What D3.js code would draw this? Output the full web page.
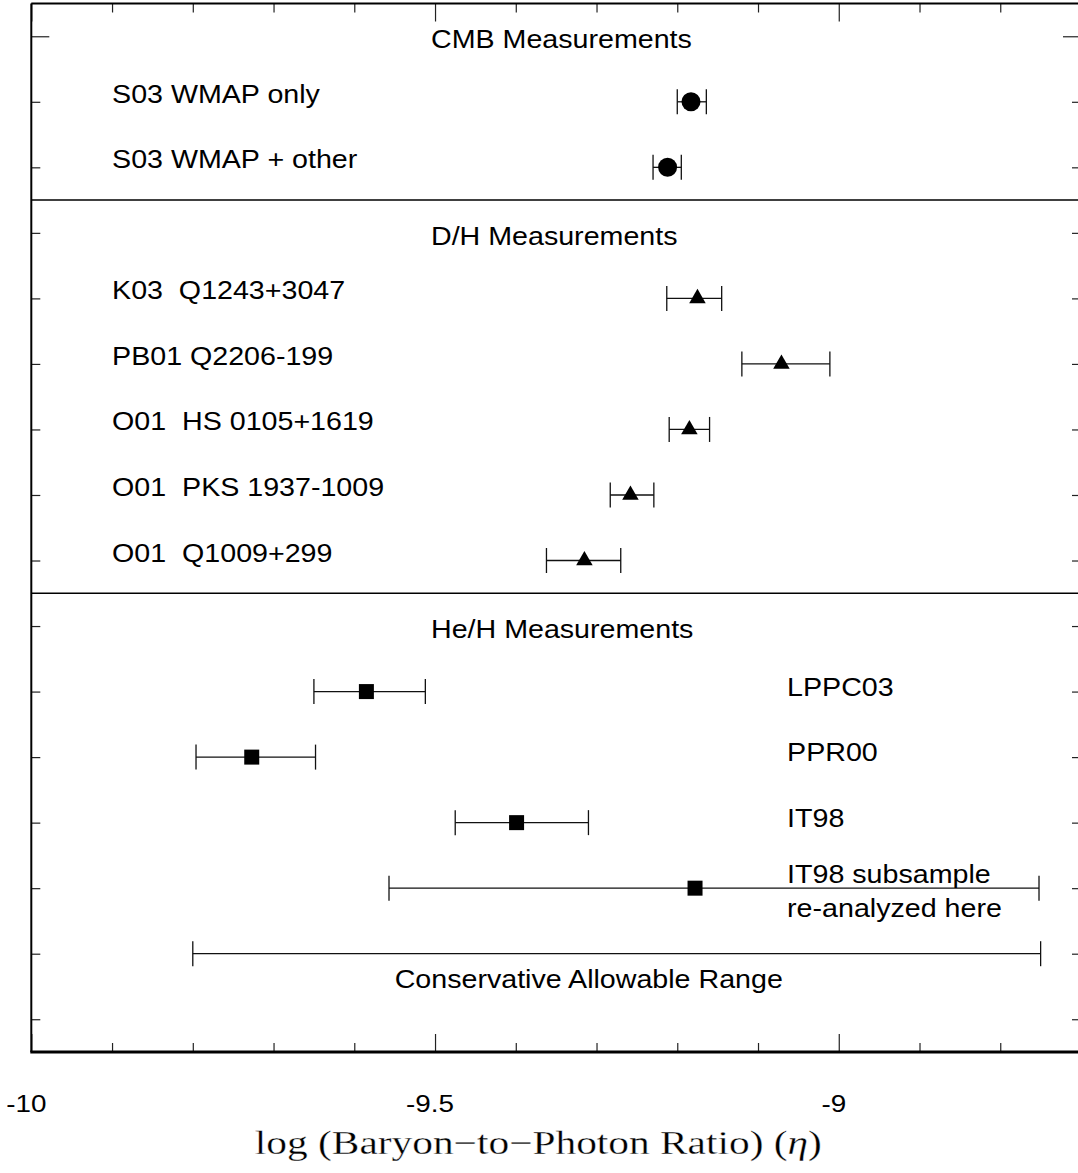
<!DOCTYPE html>
<html>
<head>
<meta charset="utf-8">
<script src="https://cdn.jsdelivr.net/npm/d3@7"></script>
<style>
  body { margin: 0; background: #fff; }
  text { font-family: "Liberation Sans", Arial, Helvetica, sans-serif; fill: #000; }
  .domain { display: none; }
</style>
</head>
<body>
<script>
'use strict';

// ---- data (log eta, rows counted from the top) ----
const sectionTitles = ['CMB Measurements', 'D/H Measurements', 'He/H Measurements'];
const sectionRows = [0, 3, 9];
const dividerRows = [2.5, 8.5];

const cmbLabels = ['S03 WMAP only', 'S03 WMAP + other'];
const cmbRows = [1, 2];
const cmbEta = [-9.183, -9.212];
const cmbLow = [-9.200, -9.230];
const cmbHigh = [-9.164, -9.195];

const dhLabels = ['K03  Q1243+3047', 'PB01 Q2206-199', 'O01  HS 0105+1619', 'O01  PKS 1937-1009', 'O01  Q1009+299'];
const dhRows = [4, 5, 6, 7, 8];
const dhEta = [-9.175, -9.071, -9.185, -9.258, -9.315];
const dhLow = [-9.213, -9.120, -9.210, -9.283, -9.362];
const dhHigh = [-9.145, -9.011, -9.160, -9.229, -9.270];

const heLabels = [['LPPC03'], ['PPR00'], ['IT98'], ['IT98 subsample', 're-analyzed here']];
const heRows = [10, 11, 12, 13];
const heEta = [-9.585, -9.727, -9.399, -9.178];
const heLow = [-9.650, -9.796, -9.475, -9.557];
const heHigh = [-9.512, -9.648, -9.310, -8.752];

const rangeLabel = 'Conservative Allowable Range';
const rangeRow = 14;
const rangeLow = -9.8;
const rangeHigh = -8.75;

const xDomain = [-10, -8.7];
const yDomain = [-0.5, 15.5];
const xMajor = [-10, -9.5, -9];
const xMajorLabels = ['-10', '-9.5', '-9'];
const xMinor = [-9.9, -9.8, -9.7, -9.6, -9.4, -9.3, -9.2, -9.1, -8.9, -8.8];
const yMajor = [0];
const yMinor = [1, 2, 3, 4, 5, 6, 7, 8, 9, 10, 11, 12, 13, 14, 15];

// label anchors in data units
const leftLabelX = -9.9;
const titleX = -9.505;
const heLabelX = -9.064;
const rangeLabelX = -9.55;
const axisTitleX = -9.372;

// ---- setup ----
const W = 1078, H = 1173;
const svg = d3.select('body').append('svg')
  .attr('width', W).attr('height', H)
  .attr('viewBox', `0 0 ${W} ${H}`)
  .attr('xmlns', 'http://www.w3.org/2000/svg');

svg.append('rect').attr('width', W).attr('height', H).attr('fill', '#fff');

const x = d3.scaleLinear().domain(xDomain).range([31.3, 1081]);
const y = d3.scaleLinear().domain(yDomain).range([3.5, 1052]);

const label = (node, px, py, str, size, sx, anchor) => {
  node.append('text')
    .attr('transform', `translate(${px}, ${py}) scale(${sx}, 1)`)
    .attr('font-size', size)
    .attr('text-anchor', anchor || 'start')
    .style('white-space', 'pre')
    .text(str);
};

// ---- axes / frame ----
const axes = svg.append('g');
const tickStyle = g => g.selectAll('.tick line').attr('stroke', '#222').attr('stroke-width', 1.2);

axes.append('g').attr('transform', `translate(0, ${y(yDomain[1])})`)
  .call(d3.axisBottom(x).tickValues(xMinor).tickSize(-9).tickFormat(''))
  .call(tickStyle);
axes.append('g').attr('transform', `translate(0, ${y(yDomain[1])})`)
  .call(d3.axisBottom(x).tickValues(xMajor).tickSize(-18).tickFormat(''))
  .call(tickStyle);
axes.append('g').attr('transform', `translate(0, ${y(yDomain[0])})`)
  .call(d3.axisTop(x).tickValues(xMinor).tickSize(-9).tickFormat(''))
  .call(tickStyle);
axes.append('g').attr('transform', `translate(0, ${y(yDomain[0])})`)
  .call(d3.axisTop(x).tickValues(xMajor).tickSize(-18).tickFormat(''))
  .call(tickStyle);
axes.append('g').attr('transform', `translate(${x(xDomain[0])}, 0)`)
  .call(d3.axisLeft(y).tickValues(yMinor).tickSize(-9).tickFormat(''))
  .call(tickStyle);
axes.append('g').attr('transform', `translate(${x(xDomain[0])}, 0)`)
  .call(d3.axisLeft(y).tickValues(yMajor).tickSize(-18).tickFormat(''))
  .call(tickStyle);
axes.append('g').attr('transform', `translate(${x(xDomain[1])}, 0)`)
  .call(d3.axisRight(y).tickValues(yMinor).tickSize(-9).tickFormat(''))
  .call(tickStyle);
axes.append('g').attr('transform', `translate(${x(xDomain[1])}, 0)`)
  .call(d3.axisRight(y).tickValues(yMajor).tickSize(-18).tickFormat(''))
  .call(tickStyle);

// frame
axes.append('line')
  .attr('x1', x(xDomain[0])).attr('x2', x(xDomain[0]))
  .attr('y1', y(yDomain[0])).attr('y2', y(yDomain[1]))
  .attr('stroke', '#000').attr('stroke-width', 2);
axes.append('line')
  .attr('x1', x(xDomain[0])).attr('x2', x(xDomain[1]))
  .attr('y1', y(yDomain[0])).attr('y2', y(yDomain[0]))
  .attr('stroke', '#000').attr('stroke-width', 2);
axes.append('line')
  .attr('x1', x(xDomain[0]) - 1).attr('x2', x(xDomain[1]))
  .attr('y1', y(yDomain[1])).attr('y2', y(yDomain[1]))
  .attr('stroke', '#000').attr('stroke-width', 3);
axes.append('line')
  .attr('x1', x(xDomain[1])).attr('x2', x(xDomain[1]))
  .attr('y1', y(yDomain[0])).attr('y2', y(yDomain[1]))
  .attr('stroke', '#000').attr('stroke-width', 2);

// tick labels
xMajor.forEach((v, i) => {
  label(axes, x(v) - 5, 1112, xMajorLabels[i], 24, 1.16, 'middle');
});

// axis title (thin serif, stretched like the TeX original)
const title = axes.append('text')
  .attr('x', x(axisTitleX)).attr('y', 1154)
  .attr('text-anchor', 'middle')
  .attr('font-size', 33)
  .attr('textLength', 567)
  .attr('lengthAdjust', 'spacingAndGlyphs')
  .attr('stroke', '#fff').attr('stroke-width', 0.3)
  .style('font-family', '"Liberation Serif", "Times New Roman", serif');
title.append('tspan').text('log (Baryon\u2212to\u2212Photon Ratio) (');
title.append('tspan').attr('font-style', 'italic').text('\u03b7');
title.append('tspan').text(')');

// ---- section dividers and titles ----
dividerRows.forEach(r => {
  svg.append('line')
    .attr('x1', x(xDomain[0])).attr('x2', x(xDomain[1]))
    .attr('y1', y(r)).attr('y2', y(r))
    .attr('stroke', '#000').attr('stroke-width', 1.5);
});
sectionTitles.forEach((t, i) => {
  label(svg, x(titleX), y(sectionRows[i]) + 12, t, 26.5, 1.08, 'start');
});

// ---- error bars ----
const errorBar = (node, row, lo, hi) => {
  const g = node.append('g').attr('stroke', '#111').attr('stroke-width', 1.3);
  g.append('line')
    .attr('x1', x(lo)).attr('x2', x(hi))
    .attr('y1', y(row)).attr('y2', y(row));
  [lo, hi].forEach(v => {
    g.append('line')
      .attr('x1', x(v)).attr('x2', x(v))
      .attr('y1', y(row) - 12.5).attr('y2', y(row) + 12.5);
  });
};

const drawSeries = (rows, eta, low, high, symbolType, size) => {
  const g = svg.append('g');
  rows.forEach((r, i) => errorBar(g, r, low[i], high[i]));
  g.selectAll('path.marker')
    .data(rows)
    .join('path')
      .attr('class', 'marker')
      .attr('transform', (r, i) => `translate(${x(eta[i])}, ${y(r)})`)
      .attr('d', d3.symbol().type(symbolType).size(size))
      .attr('fill', '#000');
};

drawSeries(cmbRows, cmbEta, cmbLow, cmbHigh, d3.symbolCircle, Math.PI * 9.5 * 9.5);
drawSeries(dhRows, dhEta, dhLow, dhHigh, d3.symbolTriangle, 118);
drawSeries(heRows, heEta, heLow, heHigh, d3.symbolSquare, 225);

// conservative range
errorBar(svg, rangeRow, rangeLow, rangeHigh);
label(svg, x(rangeLabelX), y(rangeRow) + 34, rangeLabel, 26.5, 1.08, 'start');

// ---- point labels ----
cmbLabels.forEach((t, i) => label(svg, x(leftLabelX), y(cmbRows[i]) + 1, t, 26.5, 1.08, 'start'));
dhLabels.forEach((t, i) => label(svg, x(leftLabelX), y(dhRows[i]) + 1, t, 26.5, 1.08, 'start'));
heLabels.forEach((lines, i) => {
  const base = lines.length > 1 ? y(heRows[i]) - 5 : y(heRows[i]) + 4;
  lines.forEach((t, j) => label(svg, x(heLabelX), base + j * 34, t, 26.5, 1.08, 'start'));
});
</script>
</body>
</html>
